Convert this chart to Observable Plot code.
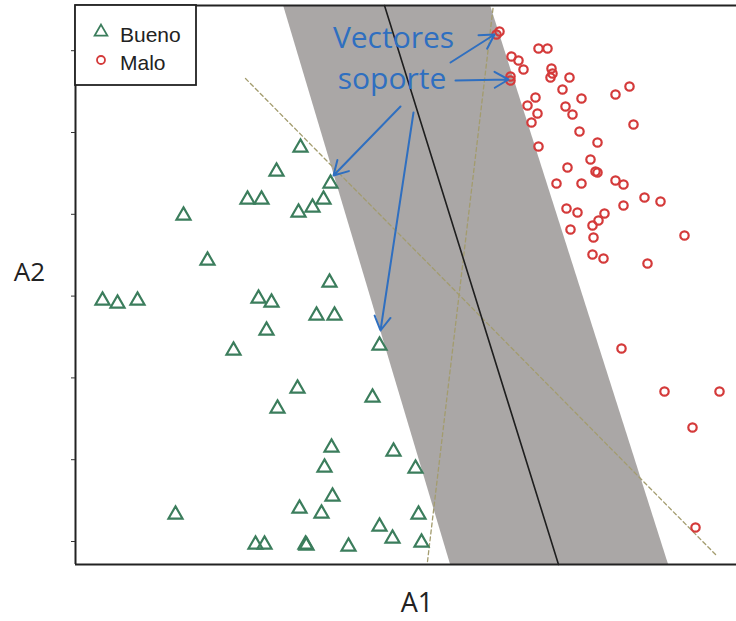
<!DOCTYPE html>
<html><head><meta charset="utf-8">
<script src="https://cdn.jsdelivr.net/npm/d3@7"></script>
<script src="https://cdn.jsdelivr.net/npm/@observablehq/plot@0.6"></script>
<style>body{margin:0;background:#fff;} #chart{position:relative;}</style>
</head><body><div id="chart"></div>
<script>
// Clase "Bueno" (triángulos verdes)
const buenoX = [22.5,20.1,17.2,18.6,22.3,10.8,13.2,2.7,4.2,6.2,18.3,19.6,19.1,15.8,22.2,25.5,24.8,23.7,25.4,24.1,25.9,30.4,29.7,20.2,25.6,31.8,24.9,34.0,25.7,10.0,22.4,24.6,34.3,30.4,31.7,34.6,18.0,18.9,23.0,23.1,27.3];
const buenoY = [41.7,39.3,36.5,36.5,35.2,34.9,30.4,26.4,26.1,26.4,26.6,26.2,23.4,21.4,17.6,38.1,36.5,35.7,28.2,24.9,24.9,21.9,16.7,15.6,11.7,11.3,9.7,9.6,6.8,5.0,5.6,5.1,5.0,3.8,2.6,2.2,2.0,2.0,2.0,1.9,1.8];
// Clase "Malo" (círculos rojos)
const maloX = [42.4,42.1,46.3,47.2,43.6,44.3,44.8,43.5,43.5,47.6,47.7,47.5,49.4,48.7,46.0,50.6,54.0,55.4,45.2,49.0,46.2,49.7,45.6,55.8,50.4,46.3,52.2,51.5,49.2,52.0,52.2,48.1,50.6,54.0,54.8,56.9,58.5,49.1,50.2,54.8,52.9,52.3,51.7,49.5,51.8,60.9,51.7,52.8,57.2,54.6,58.9,64.4,61.7,62.0];
const maloY = [53.3,53.0,51.6,51.6,50.8,50.4,49.5,48.8,48.4,49.6,49.1,48.7,48.7,47.5,46.7,46.6,47.0,47.8,45.9,45.8,45.1,45.0,44.2,44.0,43.3,41.8,42.2,40.5,39.7,39.3,39.2,38.1,38.1,38.4,38.0,36.7,36.3,35.6,35.2,35.9,35.1,34.4,33.9,33.5,32.7,32.9,31.0,30.6,30.1,21.6,17.3,17.3,13.7,3.7];
// Margen (banda gris)
const bandY = [0, 55.9];
const bandLeft = [37.5, 20.8];
const bandRight = [59.3, 41.5];
// Hiperplano
const hyperX = [30.9, 48.3];
const hyperY = [55.9, 0];
// Otros separadores (punteados)
const dash1X = [41.75, 35.2];
const dash1Y = [55.6, 0.3];
const dash2X = [17.0, 64.2];
const dash2Y = [48.6, 0.8];
// Flechas de la anotación
const arrowX1 = [37.5, 38.0, 32.5, 33.8];
const arrowY1 = [50.2, 48.4, 45.8, 45.2];
const arrowX2 = [41.9, 43.3, 25.8, 30.5];
const arrowY2 = [53.0, 48.5, 38.9, 23.4];
const noteText = ["Vectores", "soporte"];
const noteX = [31.8, 31.65];
const noteY = [51.7, 47.6];
const yTicks = d3.range(2.3, 55, 8.18);
const legendLabels = ["Bueno", "Malo"];

const bueno = buenoX.map((x, i) => ({x, y: buenoY[i]}));
const malo = maloX.map((x, i) => ({x, y: maloY[i]}));
const band = bandY.map((y, i) => ({y, x1: bandLeft[i], x2: bandRight[i]}));
const line = (xs, ys) => xs.map((x, i) => ({x, y: ys[i]}));
const arrows = arrowX1.map((x1, i) => ({x1, y1: arrowY1[i], x2: arrowX2[i], y2: arrowY2[i]}));
const notes = noteText.map((t, i) => ({t, x: noteX[i], y: noteY[i]}));

const green = "#3b7d5c", red = "#d43a3a", blue = "#2f6fc0", olive = "#a39c6e";

const chart = Plot.plot({
  width: 736, height: 621,
  marginLeft: 75, marginRight: 0, marginTop: 5, marginBottom: 57,
  x: {domain: [0, 66.1], axis: null},
  y: {domain: [0, 55.9], axis: null},
  style: {background: "#fff"},
  marks: [
    Plot.areaX(band, {y: "y", x1: "x1", x2: "x2", fill: "#aaa7a6"}),
    Plot.line(line(dash1X, dash1Y), {x: "x", y: "y", stroke: olive, strokeWidth: 1.3, strokeDasharray: "4,3"}),
    Plot.line(line(dash2X, dash2Y), {x: "x", y: "y", stroke: olive, strokeWidth: 1.3, strokeDasharray: "4,3"}),
    Plot.line(line(hyperX, hyperY), {x: "x", y: "y", stroke: "#1e1e1e", strokeWidth: 1.6}),
    Plot.dot(bueno, {x: "x", y: "y", symbol: "triangle", r: 5.2, stroke: green, strokeWidth: 2.2, fill: "none"}),
    Plot.dot(malo, {x: "x", y: "y", symbol: "circle", r: 4.2, stroke: red, strokeWidth: 2.2, fill: "none"}),
    Plot.arrow(arrows, {x1: "x1", y1: "y1", x2: "x2", y2: "y2", bend: false, headLength: 12, stroke: blue, strokeWidth: 2}),
    Plot.text(notes, {x: "x", y: "y", text: "t", textAnchor: "middle", lineAnchor: "bottom", fill: blue, fontSize: 30, fontFamily: "Open Sans"}),
    Plot.ruleX([0], {stroke: "#222", strokeWidth: 2}),
    Plot.ruleY([0, 55.9], {stroke: "#222", strokeWidth: 1.8}),
    Plot.axisY({ticks: yTicks, tickFormat: () => "", tickSize: 4, stroke: "#333", label: null}),
    Plot.text(["A1"], {frameAnchor: "bottom", text: d => d, dx: 11, dy: 39, lineAnchor: "middle", fontSize: 27, fontFamily: "Open Sans", fill: "#222"}),
    Plot.text(["A2"], {frameAnchor: "left", text: d => d, dx: -46, dy: -12, textAnchor: "middle", lineAnchor: "middle", fontSize: 26, fontFamily: "Open Sans", fill: "#222"})
  ]
});
document.getElementById("chart").append(chart);

// Leyenda
const svg = d3.select(chart);
const g = svg.append("g").attr("text-anchor", "start");
g.append("rect").attr("x", 75).attr("y", 5).attr("width", 121).attr("height", 80)
  .attr("fill", "#fff").attr("stroke", "#222").attr("stroke-width", 1.8);
const symbols = [d3.symbolTriangle, d3.symbolCircle];
const colors = [green, red];
const sizes = [70, 50];
legendLabels.forEach((lab, i) => {
  const cy = 32 + i * 28;
  g.append("path").attr("d", d3.symbol(symbols[i], sizes[i])())
    .attr("transform", `translate(101,${cy})`)
    .attr("fill", "none").attr("stroke", colors[i]).attr("stroke-width", 1.8);
  g.append("text").attr("x", 120).attr("y", cy + 2).attr("dominant-baseline", "central")
    .attr("text-anchor", "start")
    .attr("font-family", "Liberation Sans, Arial, sans-serif").attr("font-size", 21)
    .attr("fill", "#222").text(lab);
});
</script></body></html>
